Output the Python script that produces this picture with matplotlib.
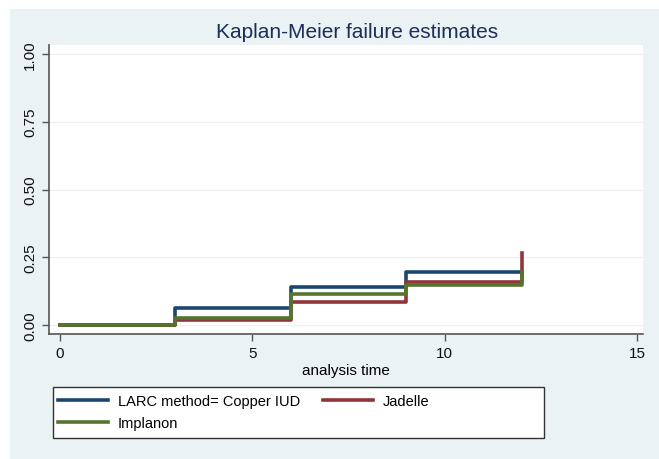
import matplotlib
matplotlib.use('Agg')
import matplotlib.pyplot as plt
from matplotlib.patches import Rectangle

# Kaplan-Meier failure estimates
times = [0, 3, 6, 9, 12]
copper_iud = [0, 0.063, 0.139, 0.194, 0.194]
jadelle = [0, 0.020, 0.084, 0.160, 0.265]
implanon = [0, 0.026, 0.114, 0.149, 0.195]

labels = ['LARC method= Copper IUD', 'Jadelle', 'Implanon']
colors = ['#1a476f', '#90353b', '#55752f']
y_ticks = [0, 0.25, 0.5, 0.75, 1.0]
x_ticks = [0, 5, 10, 15]

plt.rcParams['font.family'] = ['Liberation Sans', 'DejaVu Sans']

fig = plt.figure(figsize=(6.59, 4.60), dpi=100)
fig.patch.set_facecolor('white')
# light background panel like Stata's s2color scheme
fig.patches.append(Rectangle((10 / 659, 0), 1, 1 - 10 / 460, transform=fig.transFigure,
                             facecolor='#eaf2f3', edgecolor='none', zorder=-10))
# legend box
fig.patches.append(Rectangle((53 / 659, 1 - 439 / 460), 491 / 659, 51 / 460, transform=fig.transFigure,
                             facecolor='white', edgecolor='#333333', lw=1, zorder=-5))

ax = fig.add_axes([49 / 659, 1 - 335 / 460, (643 - 49) / 659, (335 - 46) / 460])
ax.set_facecolor('white')

lines = []
for series, lab, col in zip([copper_iud, jadelle, implanon], labels, colors):
    ln, = ax.step(times, series, where='post', color=col, lw=2.6, label=lab)
    lines.append(ln)

ax.set_xlim(-0.286, 15.156)
ax.set_ylim(-0.0332, 1.0332)
ax.set_yticks(y_ticks)
ax.set_yticklabels(['%.2f' % v for v in y_ticks], rotation=90, va='center')
ax.set_xticks(x_ticks)
ax.tick_params(axis='both', labelsize=11, color='#555555', length=5, width=1, labelcolor='#111111')
ax.grid(axis='y', color='#edf1f2', lw=1)
ax.set_axisbelow(True)
for side in ['top', 'right']:
    ax.spines[side].set_visible(False)
for side in ['left', 'bottom']:
    ax.spines[side].set_color('#555555')
    ax.spines[side].set_linewidth(1.2)

ax.set_xlabel('analysis time', fontsize=11, labelpad=2)
fig.text(357 / 659, 1 - 33 / 460, 'Kaplan-Meier failure estimates', ha='center', va='center',
         fontsize=15, color='#1e2d5c')

# column-major fill: blue, green in col 1; red in col 2
order = [0, 2, 1]
fig.legend([lines[i] for i in order], [labels[i] for i in order],
           loc='upper left', ncol=2, bbox_to_anchor=(58 / 659, 1 - 395 / 460),
           frameon=False, fontsize=10.5, handlelength=3.4, handletextpad=0.7,
           borderaxespad=0, borderpad=0, labelspacing=0.55, columnspacing=1.6)

plt.savefig('out.png', dpi=100)
